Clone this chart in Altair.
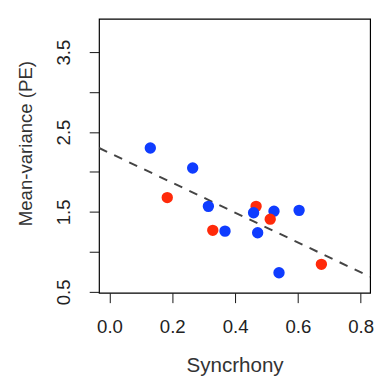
import altair as alt
import pandas as pd

# Points
sync = [0.130, 0.265, 0.184, 0.315, 0.467, 0.459, 0.524, 0.604, 0.512, 0.329, 0.368, 0.472, 0.540, 0.675]
mv = [2.30, 2.05, 1.68, 1.57, 1.57, 1.49, 1.51, 1.52, 1.41, 1.27, 1.26, 1.24, 0.74, 0.845]
group = ["blue", "blue", "red", "blue", "red", "blue", "blue", "blue", "red", "red", "blue", "blue", "blue", "red"]

# Fitted (dashed) line endpoints
line_x = [-0.033, 0.830]
line_y = [2.30, 0.69]

y_ticks = [0.5, 1.0, 1.5, 2.0, 2.5, 3.0, 3.5]
x_ticks = [0.0, 0.2, 0.4, 0.6, 0.8]

pts = pd.DataFrame({"x": sync, "y": mv, "g": group})
ln = pd.DataFrame({"x": line_x, "y": line_y})

FONT = "Liberation Sans"
xs = alt.Scale(domain=[-0.0334, 0.8303], nice=False, zero=False)
ys = alt.Scale(domain=[0.488, 3.916], nice=False, zero=False)

xaxis = alt.Axis(values=x_ticks, format=".1f", title="Syncrhony", grid=False,
                 domain=False, tickSize=10, tickColor="#111", labelFont=FONT,
                 labelFontSize=19, labelColor="#222", labelPadding=16,
                 titleFont=FONT, titleFontSize=21, titleFontWeight="normal",
                 titleColor="#333", titleY=80, titleBaseline="alphabetic")
yaxis = alt.Axis(values=y_ticks, title="Mean-variance (PE)", grid=False,
                 domain=False, tickSize=10, tickColor="#111", labelFont=FONT,
                 labelFontSize=19, labelColor="#222", labelAngle=270,
                 labelAlign="center", labelBaseline="bottom", labelPadding=16,
                 labelExpr="(datum.value*2) % 2 == 1 ? format(datum.value, '.1f') : ''",
                 titleFont=FONT, titleFontSize=19, titleFontWeight="normal",
                 titleColor="#333", titleX=-75, titleY=127, titleAngle=270,
                 titleAlign="center", titleBaseline="middle")

points = alt.Chart(pts).mark_circle(size=135, opacity=1).encode(
    x=alt.X("x:Q", scale=xs, axis=xaxis),
    y=alt.Y("y:Q", scale=ys, axis=yaxis),
    color=alt.Color("g:N", scale=alt.Scale(domain=["blue", "red"], range=["#0f3cff", "#ff2a0a"]), legend=None),
)

line = alt.Chart(ln).mark_line(color="#444", strokeWidth=2, strokeDash=[9, 8]).encode(
    x=alt.X("x:Q", scale=xs),
    y=alt.Y("y:Q", scale=ys),
)

chart = alt.layer(line, points).properties(
    width=277, height=280,
    autosize=alt.AutoSizeParams(type="none"),
    padding={"left": 93, "top": 7, "right": 6, "bottom": 86},
).configure(background="white").configure_view(stroke="black", strokeWidth=1.2)

chart.save("out.html", embed_options={"renderer": "svg", "actions": False})
